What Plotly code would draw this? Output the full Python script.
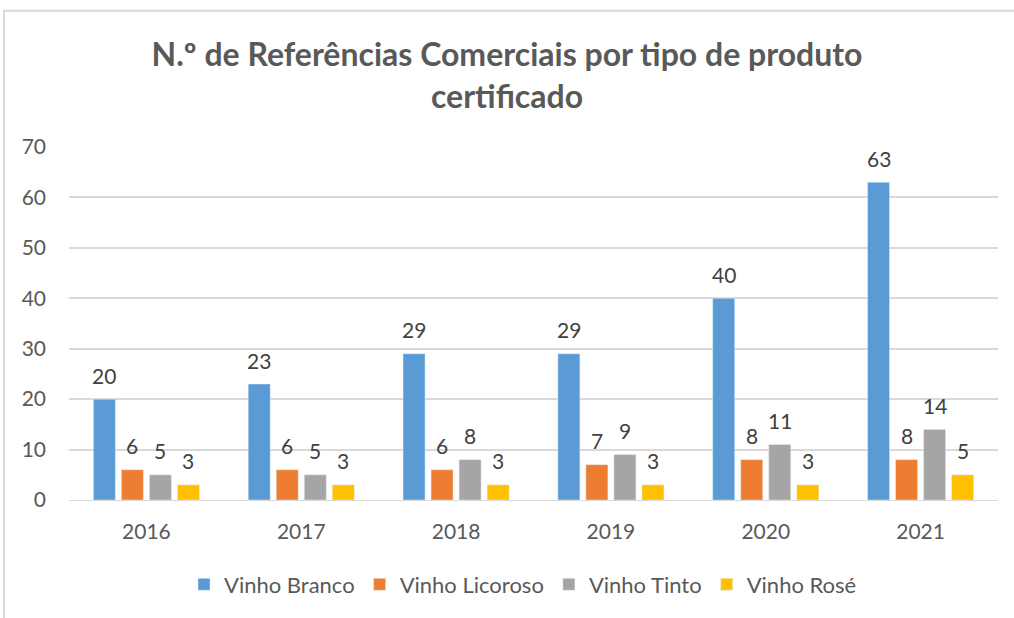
import plotly.graph_objects as go

years = ["2016", "2017", "2018", "2019", "2020", "2021"]
series_names = ["Vinho Branco", "Vinho Licoroso", "Vinho Tinto", "Vinho Rosé"]
vinho_branco = [20, 23, 29, 29, 40, 63]
vinho_licoroso = [6, 6, 6, 7, 8, 8]
vinho_tinto = [5, 5, 8, 9, 11, 14]
vinho_rose = [3, 3, 3, 3, 3, 5]
colors = ["#5B9BD5", "#ED7D31", "#A5A5A5", "#FFC000"]

FONT = "Lato"

W, H = 1014, 618
L, R, T, B = 69, 16, 147, 116
pw, ph = W - L - R, H - T - B

def px(x):
    return (x - L) / pw

def py(y):
    return (H - B - y) / ph

fig = go.Figure()
all_vals = [vinho_branco, vinho_licoroso, vinho_tinto, vinho_rose]
label_shift = [-42, -14, 14, 42]
annotations = []
for i, (name, vals, col) in enumerate(zip(series_names, all_vals, colors)):
    fig.add_trace(go.Bar(
        x=years, y=vals, name=name, marker_color=col,
    ))
    for j, v in enumerate(vals):
        annotations.append(dict(
            x=j, y=v, xref="x", yref="y", text=str(v), showarrow=False,
            xshift=label_shift[i], yshift=24, yanchor="middle", xanchor="center",
            font=dict(size=21, color="#404040", family=FONT),
        ))

fig.update_layout(
    width=W, height=H,
    margin=dict(l=L, r=R, t=T, b=B),
    paper_bgcolor="white", plot_bgcolor="white",
    barmode="group", bargap=0.276, bargroupgap=0.214,
    title=dict(
        text="<b>N.º de Referências Comerciais por tipo de produto<br>certificado</b>",
        x=0.5, xanchor="center", y=1 - 66 / H, yanchor="middle",
        font=dict(family=FONT, size=32, color="#595959"),
    ),
    font=dict(family=FONT, color="#595959"),
    xaxis=dict(
        type="category", range=[-0.5, len(years) - 0.5],
        showgrid=False, showline=True, linecolor="#D9D9D9", linewidth=1,
        ticks="", tickfont=dict(size=21, color="#595959", family=FONT),
        ticklabelstandoff=13,
    ),
    yaxis=dict(
        range=[0, 70], dtick=10, showgrid=True, gridcolor="#D9D9D9", gridwidth=1.5,
        zeroline=False, showline=False, ticks="",
        tickfont=dict(size=21, color="#595959", family=FONT),
        ticklabelstandoff=22,
    ),
    legend=dict(
        orientation="h", x=px(523), xanchor="center", y=py(587), yanchor="middle",
        font=dict(size=22, color="#595959", family=FONT),
        itemwidth=30, traceorder="normal",
    ),
    showlegend=True,
    annotations=annotations,
    shapes=[dict(
        type="rect", xref="paper", yref="paper",
        x0=px(4), x1=px(1020), y0=py(640), y1=py(10),
        line=dict(color="#D9D9D9", width=2), fillcolor="rgba(0,0,0,0)", layer="below",
    )],
)

fig.write_html(
    "out.html",
    config={"displayModeBar": False},
    post_script="document.body.style.margin='0';document.body.style.overflow='hidden';",
)
